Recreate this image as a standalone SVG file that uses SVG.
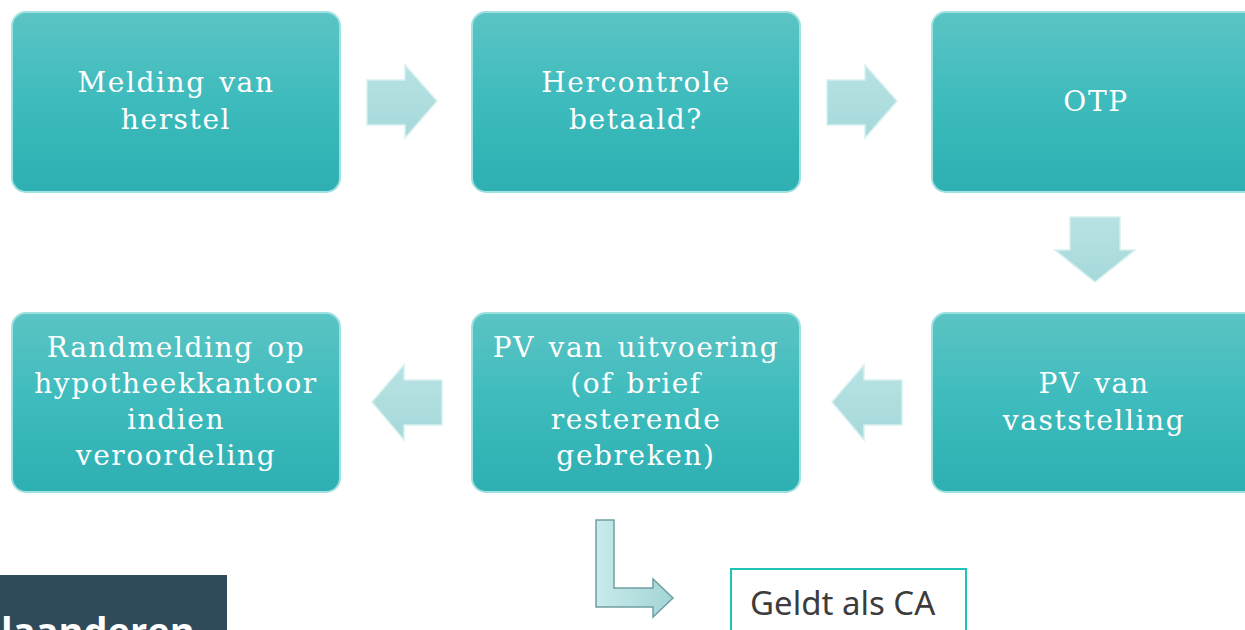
<svg xmlns="http://www.w3.org/2000/svg" width="1245" height="630" viewBox="0 0 1245 630">
<defs>
<linearGradient id="boxg" x1="0" y1="0" x2="0" y2="1">
<stop offset="0" stop-color="#5cc4c4"/>
<stop offset="0.5" stop-color="#3dbbbd"/>
<stop offset="1" stop-color="#2eafb1"/>
</linearGradient>
<linearGradient id="arrg" x1="0" y1="0" x2="0" y2="1">
<stop offset="0" stop-color="#b8e2e3"/>
<stop offset="1" stop-color="#a6d9da"/>
</linearGradient>
<linearGradient id="lg" x1="0" y1="0" x2="1" y2="0">
<stop offset="0" stop-color="#c9eaea"/>
<stop offset="1" stop-color="#a3d5d7"/>
</linearGradient>
</defs>
<style>
.box{fill:url(#boxg);stroke:#9fe0e0;stroke-width:2}
.t{font-family:"DejaVu Serif",serif;font-size:28px;fill:#ffffff;text-anchor:middle;letter-spacing:1.6px;word-spacing:3px}
.arr{fill:url(#arrg);stroke:#d8f0f0;stroke-width:1.5}
</style>
<rect width="1245" height="630" fill="#ffffff"/>
<g id="connectors">
<polygon class="arr" points="367,80 405,80 405,65 437,101 405,138 405,125 367,125"/>
<polygon class="arr" points="827,80 865,80 865,65 897,101 865,138 865,125 827,125"/>
<polygon class="arr" points="1070,217 1120,217 1120,250 1135,250 1095,282 1055,250 1070,250"/>
<polygon class="arr" points="442,380 404,380 404,365 372,402 404,440 404,425 442,425"/>
<polygon class="arr" points="902,380 864,380 864,365 832,402 864,440 864,425 902,425"/>
<polygon points="596,520 614,520 614,588 653,588 653,579 673,598 653,617 653,607 596,607" fill="url(#lg)" stroke="#6f9fa3" stroke-width="1.5"/>
</g>
<g id="n1"><rect class="box" x="12" y="12" width="328" height="180" rx="14"/>
<text class="t" x="176" y="92">Melding van</text><text class="t" x="176" y="129">herstel</text></g>
<g id="n2"><rect class="box" x="472" y="12" width="328" height="180" rx="14"/>
<text class="t" x="636" y="92">Hercontrole</text><text class="t" x="636" y="129">betaald?</text></g>
<g id="n3"><rect class="box" x="932" y="12" width="330" height="180" rx="14"/>
<text class="t" x="1096" y="111">OTP</text></g>
<g id="n6"><rect class="box" x="932" y="313" width="330" height="179" rx="14"/>
<text class="t" x="1094" y="393">PV van</text><text class="t" x="1094" y="430">vaststelling</text></g>
<g id="n5"><rect class="box" x="472" y="313" width="328" height="179" rx="14"/>
<text class="t" x="636" y="357">PV van uitvoering</text><text class="t" x="636" y="393">(of brief</text><text class="t" x="636" y="429">resterende</text><text class="t" x="636" y="465">gebreken)</text></g>
<g id="n4"><rect class="box" x="12" y="313" width="328" height="179" rx="14"/>
<text class="t" x="176" y="357">Randmelding op</text><text class="t" x="176" y="393">hypotheekkantoor</text><text class="t" x="176" y="429">indien</text><text class="t" x="176" y="465">veroordeling</text></g>
<g id="ca"><rect x="731" y="569" width="235" height="70" fill="#ffffff" stroke="#1fc4b7" stroke-width="2"/>
<text x="750" y="615" font-family="'Noto Sans', sans-serif" font-size="33" fill="#3c3c3c">Geldt als CA</text></g>
<g id="logo"><rect x="0" y="575" width="227" height="60" fill="#2e4a5b"/>
<text x="1" y="645" font-family="'Open Sans', sans-serif" font-weight="bold" font-size="38" fill="#ffffff">laanderen</text></g>
</svg>
